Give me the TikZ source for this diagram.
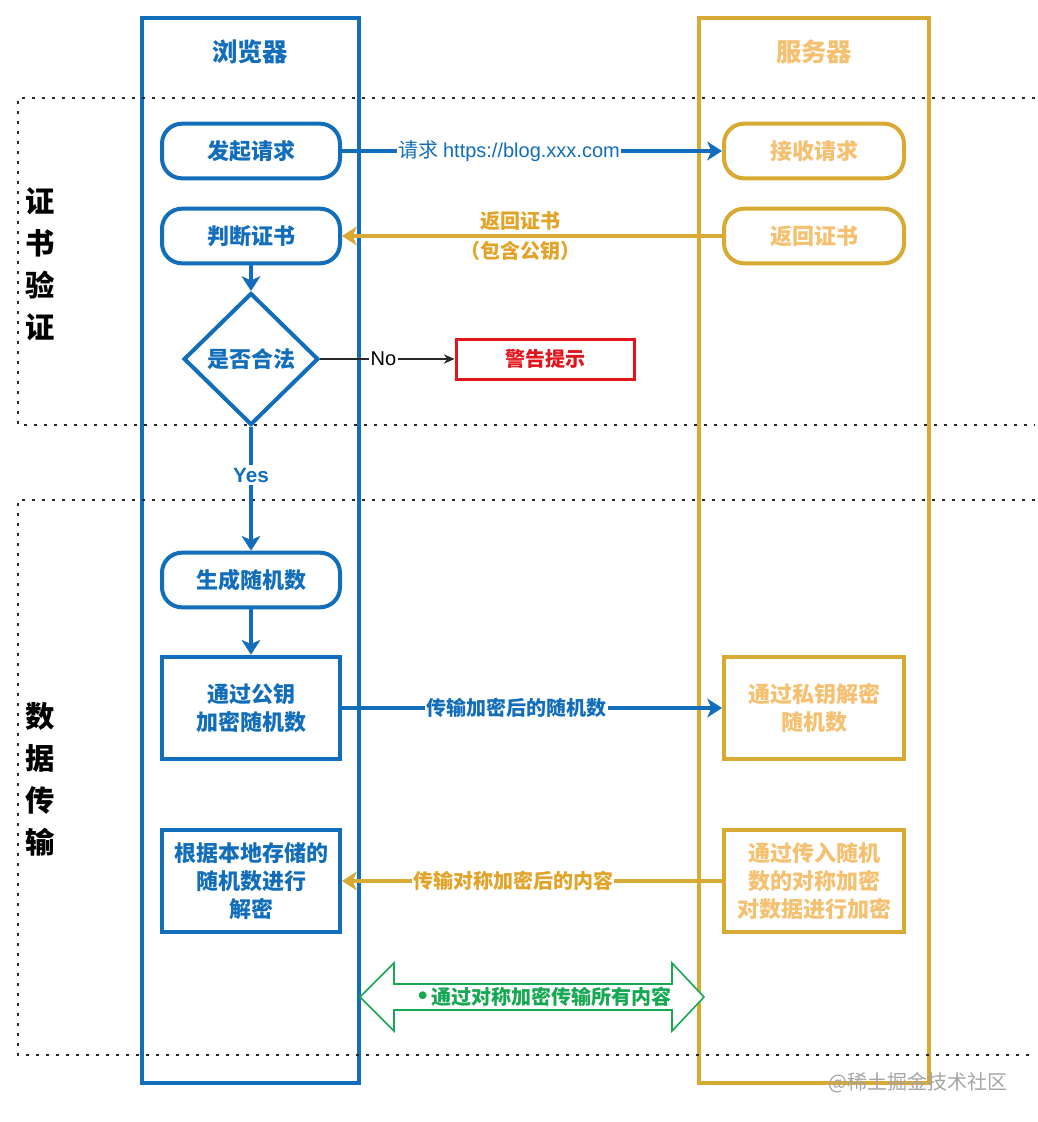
\documentclass[tikz,border=0pt]{standalone}
\usepackage{fontspec}
\setmainfont{Noto Sans CJK SC}
\newfontfamily\latin{Liberation Sans}
\usetikzlibrary{shapes.geometric,arrows.meta,positioning}

\definecolor{laneblue}{RGB}{18,110,186}
\definecolor{lanegold}{RGB}{216,170,52}
\definecolor{srvtext}{RGB}{245,192,112}
\definecolor{goldtext}{RGB}{226,164,40}
\definecolor{warnred}{RGB}{228,20,28}
\definecolor{symgreen}{RGB}{22,168,82}

\tikzset{
  every picture/.style={line width=0.75pt},
  brstep/.style={draw=laneblue, line width=3pt, text=laneblue, align=center,
    font=\bfseries\fontsize{16.5}{21}\selectfont, minimum width=133.5pt, inner sep=0pt},
  srvstep/.style={brstep, draw=lanegold, text=srvtext, minimum width=135pt},
  roundstep/.style={rounded corners=15pt, minimum height=41pt},
  squarestep/.style={minimum height=77pt},
  bluearrow/.style={draw=laneblue, line width=3pt, -{Stealth[length=11pt,width=14pt,inset=3pt]}},
  goldarrow/.style={bluearrow, draw=lanegold, -{Stealth[length=11pt,width=14pt,inset=3pt,color=lanegold]}},
  section/.style={draw={rgb,255:red,40;green,40;blue,40}, line width=2.2pt, dash pattern=on 2.2pt off 5.3pt},
  lanetitle/.style={font=\bfseries\fontsize{19}{23}\selectfont},
  sidelabel/.style={font=\bfseries\fontsize{22}{31.5}\selectfont, align=center},
  arrowlabel/.style={font=\bfseries\fontsize{15}{22.5}\selectfont, inner sep=1pt}
}

\begin{document}
\begin{tikzpicture}[x=0.75pt,y=0.75pt,yscale=-1,xscale=1]
	\path[use as bounding box, fill=white] (0,0) rectangle (1038,1122);

	%Shape: Lane browser
	\draw [laneblue, line width=3pt] (142,18) rectangle (359,1083);
	%Shape: Lane server
	\draw [lanegold, line width=3pt] (699,18) rectangle (929,1083);

	%Dotted sections
	\draw [section] (1035,98) -- (18,98) -- (18,425) -- (1035,425);
	\draw [section] (1035,500) -- (18,500) -- (18,1055) -- (1035,1055);

	% Text Node
	\node [lanetitle, text=laneblue] (brtitle) at (250,52) {浏览器};
	\node [lanetitle, text=srvtext] (srvtitle) at (814,52) {服务器};
	\node [sidelabel] (certlabel) at (40,264) {证\\书\\验\\证};
	\node [sidelabel] (datalabel) at (40,779) {数\\据\\传\\输};

	% Browser steps
	\node [brstep, roundstep] (request) at (251,151) {发起请求};
	\node [brstep, roundstep] (judge) at (251,236) {判断证书};
	\node [draw=laneblue, line width=3pt, text=laneblue, diamond, inner sep=0pt,
	  minimum width=101pt, minimum height=99pt, font=\bfseries\fontsize{16.5}{19}\selectfont] (legal) at (251,359) {是否合法};
	\node [brstep, roundstep] (genrand) at (251,580) {生成随机数};
	\node [brstep, squarestep] (encrand) at (251,708) {通过公钥\\加密随机数};
	\node [brstep, squarestep] (localdec) at (251,881) {根据本地存储的\\随机数进行\\解密};

	% Server steps
	\node [srvstep, roundstep] (receive) at (814,151) {接收请求};
	\node [srvstep, roundstep] (sendcert) at (814,236) {返回证书};
	\node [srvstep, squarestep] (privdec) at (814,708) {通过私钥解密\\随机数};
	\node [srvstep, squarestep] (symenc) at (814,881) {通过传入随机\\数的对称加密\\对数据进行加密};

	% Warning
	\node [draw=warnred, line width=2.25pt, text=warnred, minimum width=133.5pt, minimum height=30pt,
	  font=\bfseries\fontsize{15}{18}\selectfont] (warn) at (545,359) {警告提示};

	%Straight Lines
	\draw [bluearrow] (request.east) -- (receive.west)
	  node [pos=0.44, fill=white, inner sep=1pt, text=laneblue, font=\fontsize{15}{18}\selectfont] (reqlabel) {请求 {\latin https://blog.xxx.com}};
	\draw [goldarrow] (sendcert.west) -- (judge.east)
	  node [arrowlabel, pos=0.53, text=goldtext, align=center] (certtext) {返回证书\\（包含公钥）};
	\draw [bluearrow] (judge.south) -- (legal.north);
	\draw [-{Stealth[length=8pt,width=7pt]}, draw={rgb,255:red,40;green,40;blue,40}, line width=1pt] (legal.east) -- (warn.west)
	  node [pos=0.47, fill=white, inner sep=1pt, font=\latin\fontsize{15}{18}\selectfont] (nolabel) {No};
	\draw [bluearrow] (legal.south) -- (genrand.north)
	  node [pos=0.39, fill=white, inner sep=2pt, text=laneblue, font=\latin\bfseries\fontsize{15.5}{18}\selectfont] (yeslabel) {Yes};
	\draw [bluearrow] (genrand.south) -- (encrand.north);
	\draw [bluearrow] (encrand.east) -- (privdec.west)
	  node [arrowlabel, pos=0.46, fill=white, text=laneblue] (randtext) {传输加密后的随机数};
	\draw [goldarrow] (symenc.west) -- (localdec.east)
	  node [arrowlabel, pos=0.55, fill=white, text=goldtext] (contenttext) {传输对称加密后的内容};

	%Shape: Double Arrow
	\draw [symgreen, line width=1.2pt, fill=white] (360,997) -- (394,963) -- (394,984) -- (672,984) -- (672,963) -- (704,997)
	  -- (672,1031) -- (672,1010) -- (394,1010) -- (394,1031) -- cycle;
	\node [arrowlabel, text=symgreen] (symtext) at (545,997) {{\latin\fontsize{20}{20}\selectfont\textbullet}\ 通过对称加密传输所有内容};

	% Text Node
	\node [text={rgb,255:red,165;green,165;blue,165}, font=\fontsize{15}{18}\selectfont, anchor=east] (mark) at (1012,1083) {@稀土掘金技术社区};

\end{tikzpicture}
\end{document}
